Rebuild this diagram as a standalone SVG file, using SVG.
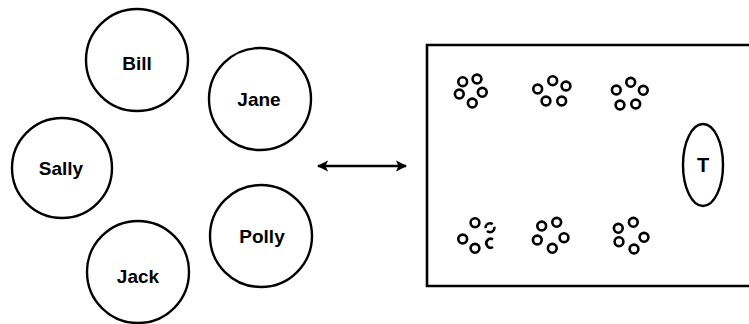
<svg xmlns="http://www.w3.org/2000/svg" width="749" height="324" viewBox="0 0 749 324">
<style>
.big{fill:#fff;stroke:#000;stroke-width:2.4}
.lbl{font-family:"Liberation Sans",Arial,sans-serif;font-weight:bold;font-size:19px;fill:#000;text-anchor:middle}
.seat{fill:none;stroke:#000;stroke-width:2.6}
.line{stroke:#000;stroke-width:2.6;fill:none}
</style>
<defs>
<marker id="ah" viewBox="0 0 10 10" refX="9" refY="5" markerWidth="4.4" markerHeight="4.4" orient="auto-start-reverse" markerUnits="strokeWidth">
<path d="M0,0 L10,5 L0,10 L2.5,5 z" fill="#000"/>
</marker>
</defs>
<rect width="749" height="324" fill="#fff"/>
<g id="bill"><circle class="big" cx="137" cy="60" r="51"/><text class="lbl" x="137" y="70">Bill</text></g>
<g id="jane"><circle class="big" cx="260" cy="99" r="51"/><text class="lbl" x="259" y="106">Jane</text></g>
<g id="sally"><circle class="big" cx="62" cy="168" r="50"/><text class="lbl" x="61" y="175">Sally</text></g>
<g id="polly"><circle class="big" cx="261" cy="236" r="51"/><text class="lbl" x="262" y="243">Polly</text></g>
<g id="jack"><circle class="big" cx="138" cy="272" r="51"/><text class="lbl" x="138" y="283">Jack</text></g>
<g id="connectors"><line class="line" x1="318" y1="166" x2="406" y2="166" marker-start="url(#ah)" marker-end="url(#ah)"/></g>
<g id="room">
<path class="line" d="M760,45 L427,45 L427,286 L760,286"/>
<g id="table-1"><circle class="seat" cx="462.7" cy="81.7" r="4.4"/><circle class="seat" cx="477" cy="79" r="4.4"/><circle class="seat" cx="459.3" cy="94" r="4.4"/><circle class="seat" cx="482.3" cy="92.3" r="4.4"/><circle class="seat" cx="472.3" cy="103" r="4.4"/></g>
<g id="table-2"><circle class="seat" cx="537.7" cy="89" r="4.4"/><circle class="seat" cx="552.7" cy="80.7" r="4.4"/><circle class="seat" cx="566" cy="86" r="4.4"/><circle class="seat" cx="546" cy="101" r="4.4"/><circle class="seat" cx="561.7" cy="101" r="4.4"/></g>
<g id="table-3"><circle class="seat" cx="616.3" cy="90" r="4.4"/><circle class="seat" cx="630.7" cy="82.3" r="4.4"/><circle class="seat" cx="643.3" cy="90.3" r="4.4"/><circle class="seat" cx="620" cy="105" r="4.4"/><circle class="seat" cx="635.7" cy="104" r="4.4"/></g>
<g id="table-4"><circle class="seat" cx="475" cy="222.7" r="4.4"/><circle class="seat" cx="490" cy="227.7" r="4.4" stroke-dasharray="10 3"/><circle class="seat" cx="462.7" cy="239" r="4.4"/><circle class="seat" cx="475" cy="248.3" r="4.4"/><path class="seat" d="M493,239.5 A4.4,4.4 0 1 0 493,247"/></g>
<g id="table-5"><circle class="seat" cx="541.7" cy="226" r="4.4"/><circle class="seat" cx="556.7" cy="222.3" r="4.4"/><circle class="seat" cx="537.3" cy="240" r="4.4"/><circle class="seat" cx="564" cy="237.7" r="4.4"/><circle class="seat" cx="552.3" cy="248.3" r="4.4"/></g>
<g id="table-6"><circle class="seat" cx="618.3" cy="228.3" r="4.4"/><circle class="seat" cx="633.3" cy="222.3" r="4.4"/><circle class="seat" cx="619" cy="241.7" r="4.4"/><circle class="seat" cx="644" cy="237.3" r="4.4"/><circle class="seat" cx="634" cy="249" r="4.4"/></g>
<g id="teacher"><ellipse class="big" cx="703" cy="165" rx="20" ry="41"/><text class="lbl" x="703" y="172" style="font-size:20px">T</text></g>
</g>
</svg>
